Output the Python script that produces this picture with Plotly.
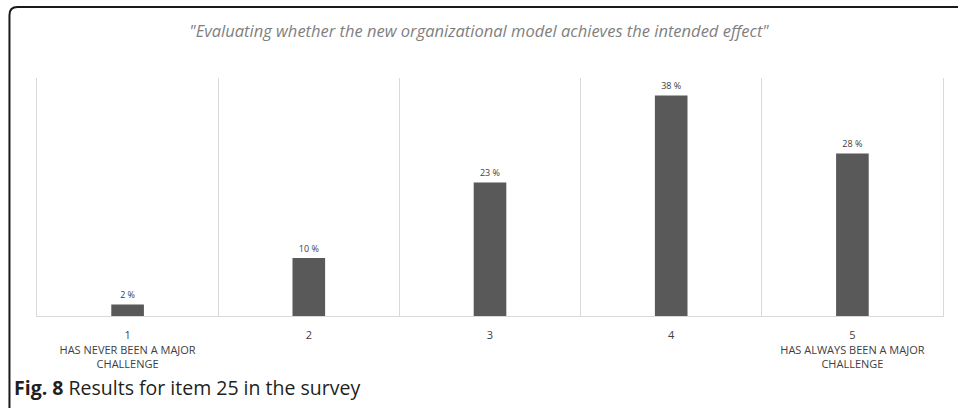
import plotly.graph_objects as go

# Survey item 25: share of answers per scale point
scale_points = [1, 2, 3, 4, 5]
shares = [2, 10, 23, 38, 28]
tick_labels = [
    "1<br>HAS NEVER BEEN A MAJOR<br>CHALLENGE",
    "2",
    "3",
    "4",
    "5<br>HAS ALWAYS BEEN A MAJOR<br>CHALLENGE",
]
bar_labels = [f"{v} %" for v in shares]

BAR_COLOR = "#595959"
GRID_COLOR = "#d9d9d9"
TEXT_COLOR = "#404040"

fig = go.Figure()

fig.add_trace(
    go.Bar(
        x=scale_points,
        y=shares,
        width=0.18,
        marker=dict(color=BAR_COLOR, line=dict(width=0)),
        text=bar_labels,
        textposition="outside",
        textfont=dict(family="Open Sans", size=9, color=TEXT_COLOR),
        cliponaxis=False,
        showlegend=False,
    )
)

fig.update_layout(
    width=958,
    height=408,
    margin=dict(l=37, r=15, t=78, b=92),
    paper_bgcolor="white",
    plot_bgcolor="white",
    font=dict(family="Open Sans", color=TEXT_COLOR),
    title=dict(
        text="<i>\"Evaluating whether the new organizational model achieves the intended effect\"</i>",
        x=0.5,
        xanchor="center",
        y=0.924,
        yanchor="middle",
        font=dict(family="Open Sans", size=16.5, color="#7f7f7f"),
    ),
    xaxis=dict(
        range=[0.5, 5.5],
        tickvals=scale_points,
        ticktext=tick_labels,
        tickfont=dict(family="Open Sans", size=11, color=TEXT_COLOR),
        ticklabelstandoff=9,
        showgrid=False,
        zeroline=False,
        showline=True,
        linecolor=GRID_COLOR,
        linewidth=1,
        ticks="",
        minor=dict(
            tickvals=[1.5, 2.5, 3.5, 4.5],
            showgrid=True,
            gridcolor=GRID_COLOR,
            gridwidth=1,
        ),
    ),
    yaxis=dict(
        range=[0, 41],
        showticklabels=False,
        ticks="",
        showgrid=False,
        zeroline=False,
        showline=True,
        mirror=True,
        linecolor=GRID_COLOR,
        linewidth=1,
    ),
)

# journal figure frame: left and top border with rounded corner
fig.add_shape(
    type="path",
    xref="paper",
    yref="paper",
    path="M -0.0304 -0.45 L -0.0304 1.264 Q -0.0304 1.298 -0.0216 1.298 L 1.03 1.298",
    line=dict(color="#1a1a1a", width=2),
)

fig.add_annotation(
    text="<b>Fig. 8</b> Results for item 25 in the survey",
    xref="paper",
    yref="paper",
    x=-0.0276,
    y=-0.3025,
    xanchor="left",
    yanchor="middle",
    showarrow=False,
    font=dict(family="Open Sans", size=19.5, color="#231f20"),
)

fig.write_html(
    "out.html",
    config={"displayModeBar": False},
    post_script="document.body.style.margin='0px';",
)
